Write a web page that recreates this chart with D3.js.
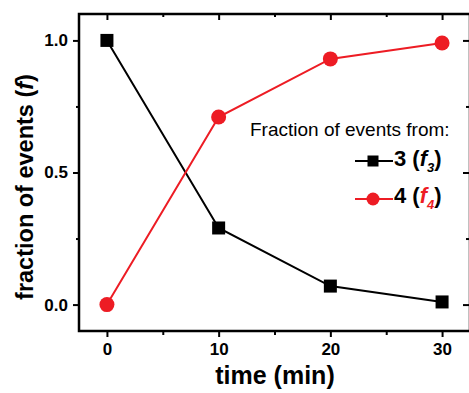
<!DOCTYPE html>
<html>
<head>
<meta charset="utf-8">
<script src="https://cdn.jsdelivr.net/npm/d3@7"></script>
<style>
  body { margin: 0; background: #fff; }
  text { font-family: "Liberation Sans", Arial, sans-serif; }
</style>
</head>
<body>
<svg id="chart" width="469" height="393"></svg>
<script>
// data
var times = [0, 10, 20, 30];
var frac3 = [1.0, 0.29, 0.07, 0.01];
var frac4 = [0.0, 0.71, 0.93, 0.99];
var xTicks = [0, 10, 20, 30];
var xMinor = [5, 15, 25];
var yTicks = [0, 0.5, 1.0];
var yMinor = [0.25, 0.75];

var svg = d3.select("#chart");
var plotLeft = 79, plotTop = 14, plotRight = 470, plotBottom = 331;

var x = d3.scaleLinear().domain([-2.5, 32.5]).range([plotLeft, plotRight]);
var y = d3.scaleLinear().domain([-0.1, 1.1]).range([plotBottom, plotTop]);

// frame
svg.append("rect")
   .attr("x", plotLeft).attr("y", plotTop)
   .attr("width", plotRight - plotLeft).attr("height", plotBottom - plotTop)
   .attr("fill", "none").attr("stroke", "#000").attr("stroke-width", 2.5);

// bottom axis (ticks outward)
var bx = svg.append("g").attr("transform", "translate(0," + plotBottom + ")");
bx.call(d3.axisBottom(x).tickValues(xTicks).tickSize(6).tickPadding(6).tickFormat(d3.format("d")));
bx.append("g").call(d3.axisBottom(x).tickValues(xMinor).tickSize(4).tickFormat(""));

// left axis (ticks outward)
var ly = svg.append("g").attr("transform", "translate(" + plotLeft + ",0)");
ly.call(d3.axisLeft(y).tickValues(yTicks).tickSize(6).tickPadding(5).tickFormat(d3.format(".1f")));
ly.append("g").call(d3.axisLeft(y).tickValues(yMinor).tickSize(3).tickFormat(""));

// top and right ticks (inward)
var tx = svg.append("g").attr("transform", "translate(0," + plotTop + ")");
tx.call(d3.axisBottom(x).tickValues(xTicks).tickSize(6).tickFormat(""));
tx.append("g").call(d3.axisBottom(x).tickValues(xMinor).tickSize(3).tickFormat(""));
var ry = svg.append("g").attr("transform", "translate(" + plotRight + ",0)");
ry.call(d3.axisLeft(y).tickValues(yTicks).tickSize(7).tickFormat(""));
ry.append("g").call(d3.axisLeft(y).tickValues(yMinor).tickSize(4).tickFormat(""));

svg.selectAll(".domain").remove();
svg.selectAll(".tick line").attr("stroke", "#000").attr("stroke-width", 2);
svg.selectAll(".tick text")
   .attr("font-family", "Liberation Sans, Arial, sans-serif")
   .attr("font-size", 17).attr("font-weight", "bold").attr("fill", "#000");

// series
var line = d3.line().x(function(d) { return x(d[0]); }).y(function(d) { return y(d[1]); });
var d3s = times.map(function(t, i) { return [t, frac3[i]]; });
var d4s = times.map(function(t, i) { return [t, frac4[i]]; });

svg.append("path").datum(d3s).attr("d", line)
   .attr("fill", "none").attr("stroke", "#000").attr("stroke-width", 2);
svg.append("path").datum(d4s).attr("d", line)
   .attr("fill", "none").attr("stroke", "#ed1c24").attr("stroke-width", 2);

svg.selectAll(".sq").data(d3s).enter().append("rect")
   .attr("x", function(d) { return x(d[0]) - 6.5; })
   .attr("y", function(d) { return y(d[1]) - 6.5; })
   .attr("width", 13).attr("height", 13).attr("fill", "#000");
svg.selectAll(".ci").data(d4s).enter().append("circle")
   .attr("cx", function(d) { return x(d[0]); })
   .attr("cy", function(d) { return y(d[1]); })
   .attr("r", 7.5).attr("fill", "#ed1c24");

// axis titles
var yt = svg.append("text")
   .attr("transform", "translate(33,187) rotate(-90)")
   .attr("text-anchor", "middle").attr("font-size", 23.5).attr("font-weight", "bold");
yt.append("tspan").text("fraction of events (");
yt.append("tspan").attr("font-style", "italic").text("f");
yt.append("tspan").text(")");

svg.append("text").attr("x", 275).attr("y", 384)
   .attr("text-anchor", "middle").attr("font-size", 25).attr("font-weight", "bold")
   .text("time (min)");

// legend
svg.append("text").attr("x", 250).attr("y", 136)
   .attr("font-size", 19).text("Fraction of events from:");

var legend = [
  { label: "3", sub: "3", color: "#000", fcolor: "#000", shape: "square", cy: 161, base: 166 },
  { label: "4", sub: "4", color: "#ed1c24", fcolor: "#ed1c24", shape: "circle", cy: 199, base: 203 }
];
legend.forEach(function(e) {
  svg.append("line").attr("x1", 355).attr("x2", 393).attr("y1", e.cy).attr("y2", e.cy)
     .attr("stroke", e.color).attr("stroke-width", 2.2);
  if (e.shape === "square") {
    svg.append("rect").attr("x", 367.5).attr("y", e.cy - 5.5).attr("width", 11).attr("height", 11).attr("fill", e.color);
  } else {
    svg.append("circle").attr("cx", 373).attr("cy", e.cy).attr("r", 6.5).attr("fill", e.color);
  }
  var t = svg.append("text").attr("x", 394).attr("y", e.base)
     .attr("font-size", 22).attr("font-weight", "bold").attr("fill", "#000");
  t.append("tspan").text(e.label + " (");
  t.append("tspan").attr("font-style", "italic").attr("fill", e.fcolor).text("f");
  t.append("tspan").attr("font-style", "italic").attr("fill", e.fcolor)
   .attr("font-size", 13).attr("dy", 6).text(e.sub);
  t.append("tspan").attr("dy", -6).text(")");
});
</script>
</body>
</html>
